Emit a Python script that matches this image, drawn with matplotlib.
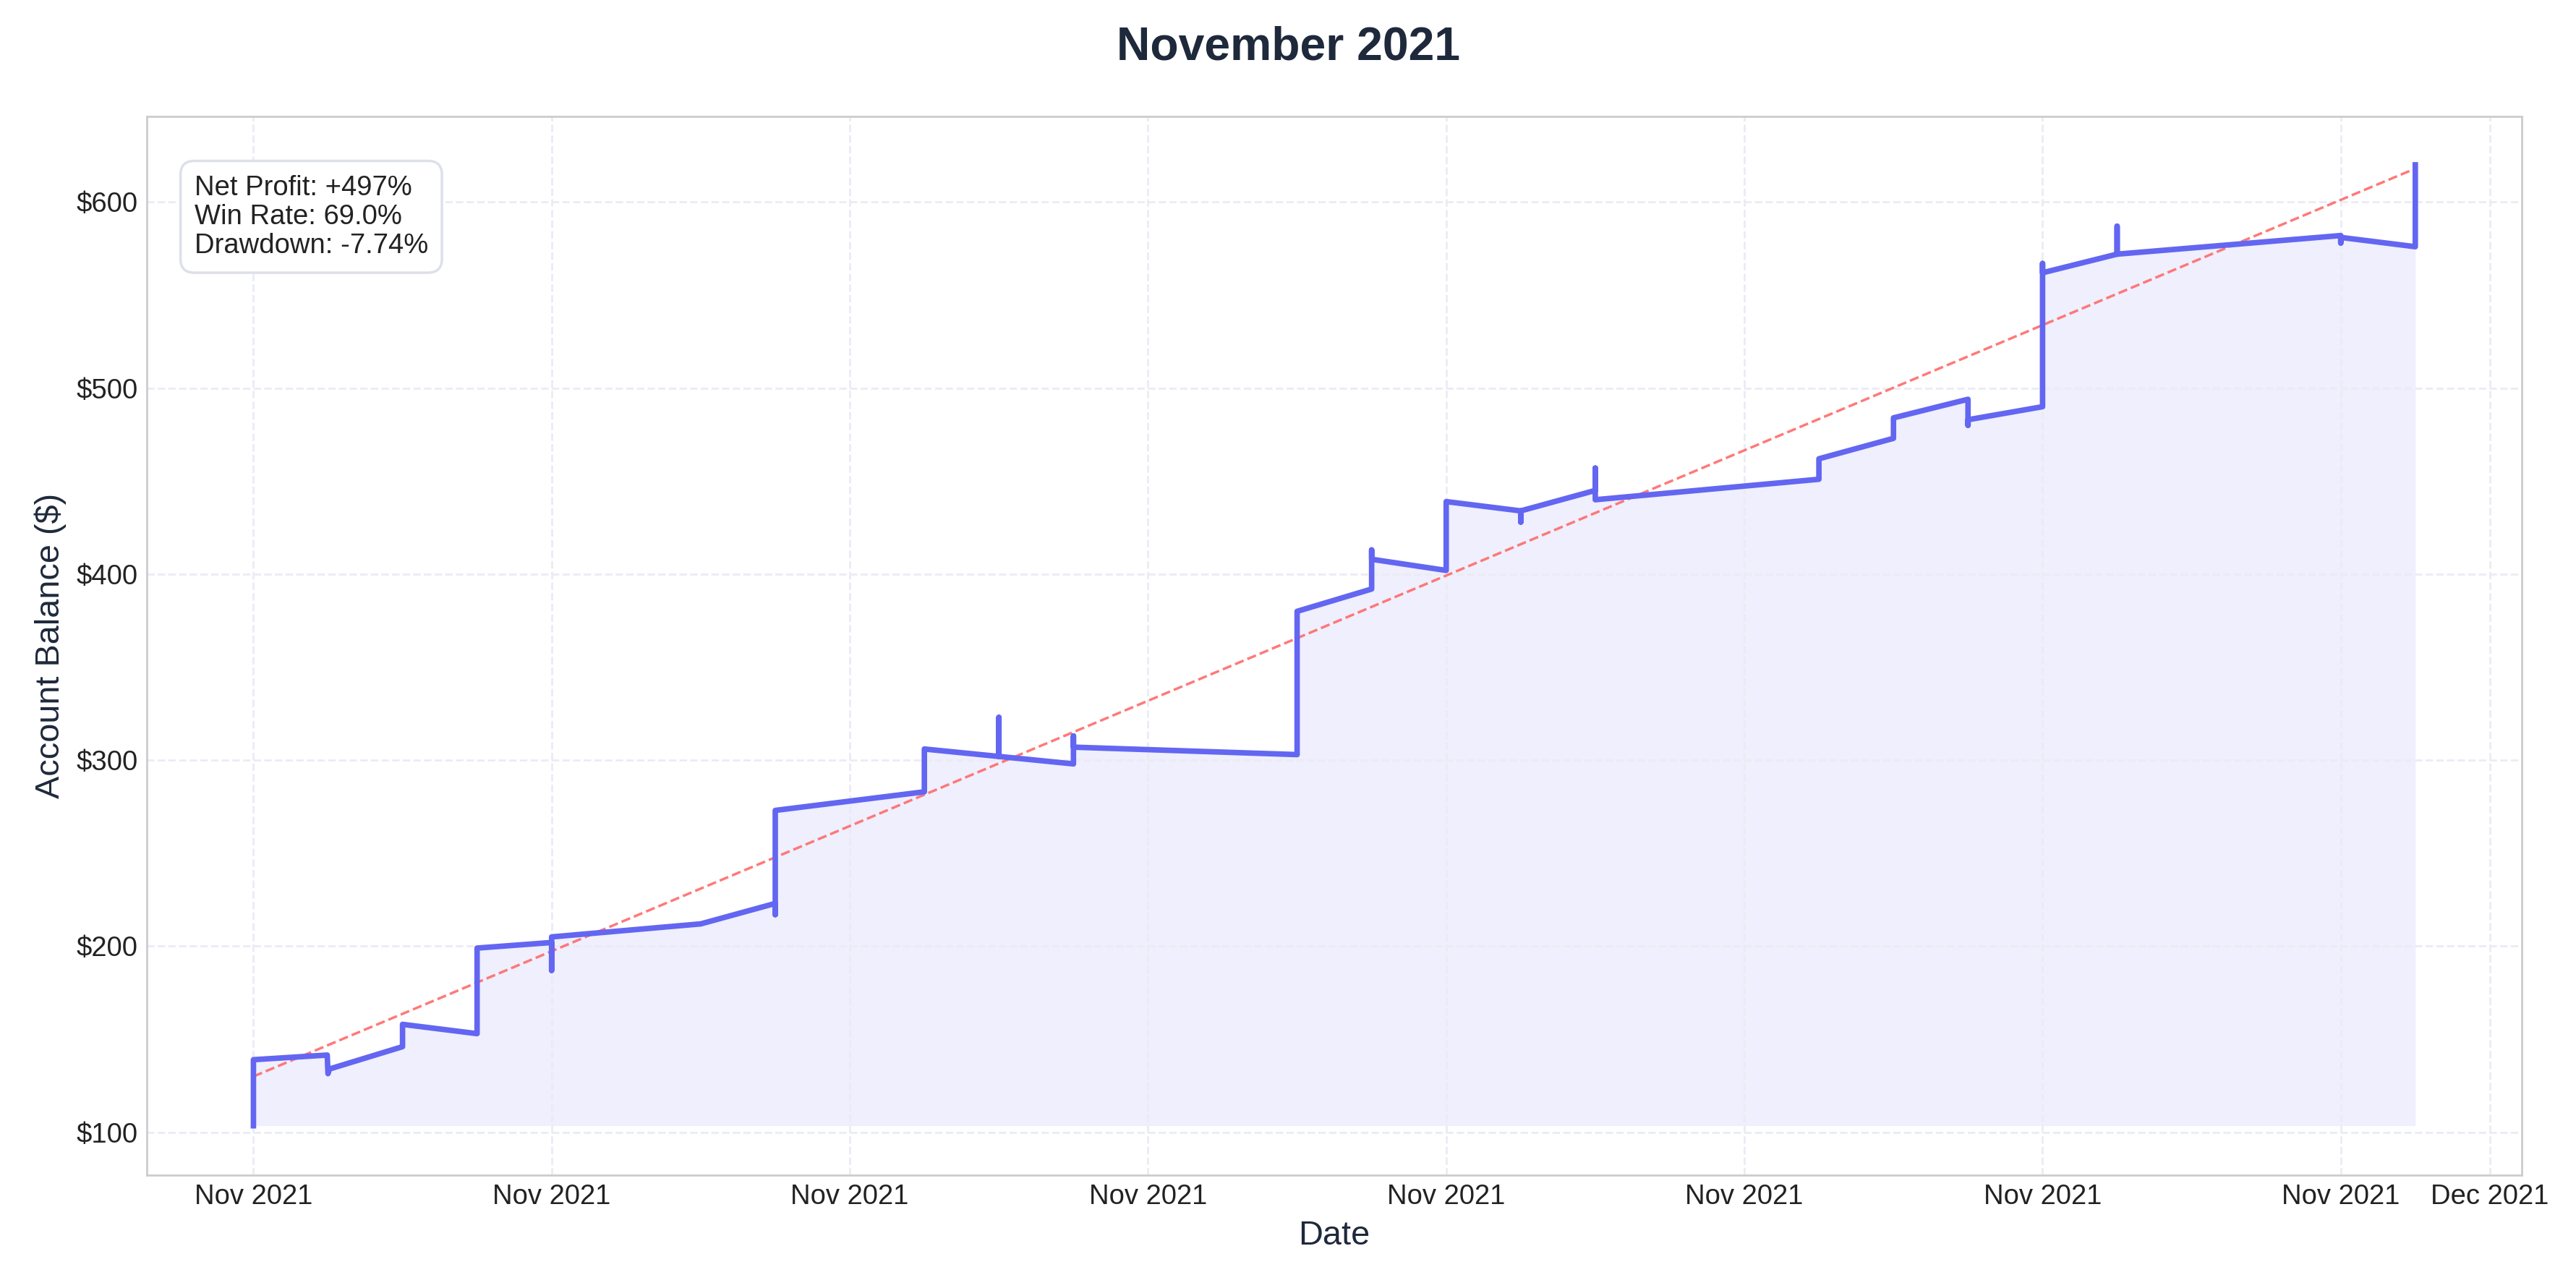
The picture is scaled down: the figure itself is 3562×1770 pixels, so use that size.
import matplotlib
matplotlib.use("Agg")
import matplotlib.pyplot as plt
import matplotlib.dates as mdates
import pandas as pd
import numpy as np

plt.rcParams['font.family'] = ['Liberation Sans', 'DejaVu Sans']

# day offset (from Nov 1 2021) and balance
days = [0, 0, 0.99, 1.0, 1.02, 2.0, 2.0, 3.0, 3.0, 4.0, 4.0, 4.0, 6.0, 7.0, 7.0, 7.0,
        9.0, 9.0, 10.0, 10.0, 10.0, 11.0, 11.0, 11.0, 14.0, 14.0, 15.0, 15.0, 15.0,
        16.0, 16.0, 17.0, 17.0, 17.0, 18.0, 18.0, 18.0, 21.0, 21.0, 22.0, 22.0,
        23.0, 23.0, 23.0, 24.0, 24.0, 24.0, 25.0, 25.0, 25.0, 28.0, 28.0, 28.0, 29.0, 29.0]
balance = [103.5, 139, 141.5, 131.5, 134, 146, 158, 153, 199, 202, 187, 205, 212, 223, 217, 273,
           283, 306, 302, 323, 302, 298, 313, 307, 303, 380, 392, 413, 408,
           402, 439, 434, 428, 434, 445, 457, 440, 451, 462, 473, 484,
           494, 480, 483, 490, 567, 562, 572, 587, 572, 582, 578, 581, 576, 620]
trend_start, trend_end = 130, 618

start = pd.Timestamp("2021-11-01")
dates = [start + pd.Timedelta(days=d) for d in days]

fig = plt.figure(figsize=(14.248, 7.08), dpi=250)
ax = fig.add_axes([0.057, 0.082, 0.922, 0.827])
ax.plot(dates, balance, color="#6366f1", lw=2.2, zorder=3)
ax.fill_between(dates, balance, min(balance), color="#6366f1", alpha=0.1, lw=0)
ax.plot([dates[0], dates[-1]], [trend_start, trend_end], "--", color="#ff6b6b", lw=1, alpha=0.9)

ax.set_xlim(start - pd.Timedelta(days=1.43), start + pd.Timedelta(days=30.43))
ax.set_ylim(77, 646)
ax.xaxis.set_major_locator(mdates.DayLocator(bymonthday=list(range(1, 32, 4))))
ax.xaxis.set_major_formatter(mdates.DateFormatter("%b %Y"))
ax.yaxis.set_major_formatter(plt.FuncFormatter(lambda v, p: f"${v:.0f}"))
ax.set_yticks([100, 200, 300, 400, 500, 600])
ax.grid(True, ls="--", color="#ebebf5", lw=0.8)
ax.tick_params(labelsize=11, colors="#222222", length=0)
for s in ax.spines.values():
    s.set_color("#cccccc")
ax.set_xlabel("Date", fontsize=13.5, color="#1e293b")
ax.set_ylabel("Account Balance ($)", fontsize=13.5, color="#1e293b")
fig.suptitle("November 2021", fontsize=18.5, fontweight="bold", color="#1e293b", y=0.98)
ax.text(0.02, 0.945, "Net Profit: +497%\nWin Rate: 69.0%\nDrawdown: -7.74%",
        transform=ax.transAxes, va="top", fontsize=11, color="#222222", linespacing=1.15,
        bbox=dict(boxstyle="round,pad=0.5", fc="white", ec="#dde0ea"))
fig.savefig("out.png", dpi=250)
